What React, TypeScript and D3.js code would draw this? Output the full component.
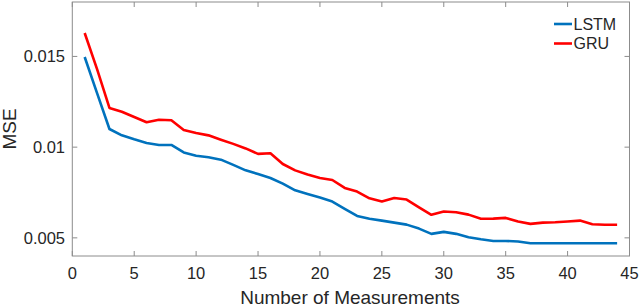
import React from "react";
import * as d3 from "d3";

const xValues = [1,2,3,4,5,6,7,8,9,10,11,12,13,14,15,16,17,18,19,20,21,22,23,24,25,26,27,28,29,30,31,32,33,34,35,36,37,38,39,40,41,42,43,44];
const lstm = [0.01497,0.01298,0.0110,0.01065,0.01043,0.01023,0.01012,0.01012,0.00971,0.00953,0.00944,0.00931,0.00902,0.00872,0.00852,0.0083,0.00799,0.00762,0.00742,0.00722,0.0070,0.0066,0.00621,0.00605,0.00595,0.00584,0.00573,0.00551,0.00522,0.00533,0.00522,0.00503,0.00492,0.00483,0.00483,0.0048,0.0047,0.0047,0.0047,0.0047,0.0047,0.0047,0.0047,0.0047];
const gru = [0.01629,0.0143,0.01216,0.01195,0.01166,0.01137,0.01151,0.01148,0.01095,0.01078,0.01065,0.01041,0.01018,0.00993,0.00963,0.00966,0.00907,0.00872,0.00849,0.0083,0.00819,0.00775,0.00755,0.00718,0.0070,0.0072,0.00711,0.00668,0.00627,0.00645,0.00641,0.00628,0.00605,0.00606,0.0061,0.0059,0.00577,0.00584,0.00586,0.0059,0.00595,0.00575,0.00572,0.00572];
const xTicks = [0,5,10,15,20,25,30,35,40,45];
const yTicks = [0.005, 0.01, 0.015];
const yTickLabels = ["0.005", "0.01", "0.015"];
const seriesNames = ["LSTM", "GRU"];
const seriesColors = ["#0072BD", "#FF0000"];

export default function App() {
  const W = 640, H = 307;
  const left = 72.3, right = 629.5, top = 2, bottom = 256;
  const x = d3.scaleLinear().domain([0, 45]).range([left, right]);
  const y = d3.scaleLinear().domain([0.004, 0.018]).range([bottom, top]);
  const line = d3.line<number>().x((_, i) => x(xValues[i])).y((d) => y(d));
  const series = [lstm, gru];
  const font = "'Liberation Sans', Arial, Helvetica, sans-serif";
  const axisColor = "#8c8c8c";
  const textColor = "#262626";
  const tl = 5;
  return (
    <div style={{ position: "fixed", left: 0, top: 0 }}>
      <svg width={W} height={H} style={{ display: "block", background: "#fff" }}>
        <rect x={left} y={top} width={right - left} height={bottom - top} fill="none" stroke={axisColor} strokeWidth={1} />
        {xTicks.map((t) => (
          <g key={"x" + t}>
            <line x1={x(t)} x2={x(t)} y1={bottom} y2={bottom - tl} stroke={axisColor} />
            <line x1={x(t)} x2={x(t)} y1={top} y2={top + tl} stroke={axisColor} />
            <text x={x(t)} y={273} textAnchor="middle" dominantBaseline="central" fontFamily={font} fontSize={16.5} fill={textColor}>{t}</text>
          </g>
        ))}
        {yTicks.map((t, i) => (
          <g key={"y" + t}>
            <line x1={left} x2={left + tl} y1={y(t)} y2={y(t)} stroke={axisColor} />
            <line x1={right} x2={right - tl} y1={y(t)} y2={y(t)} stroke={axisColor} />
            <text x={65} y={y(t)} textAnchor="end" dominantBaseline="central" fontFamily={font} fontSize={16.5} fill={textColor}>{yTickLabels[i]}</text>
          </g>
        ))}
        <text x={350} y={297} textAnchor="middle" dominantBaseline="central" fontFamily={font} fontSize={19} fill={textColor}>Number of Measurements</text>
        <text transform={`translate(9,129) rotate(-90)`} textAnchor="middle" dominantBaseline="central" fontFamily={font} fontSize={19} fill={textColor}>MSE</text>
        {series.map((s, i) => (
          <path key={i} d={line(s) || ""} fill="none" stroke={seriesColors[i]} strokeWidth={2.6} strokeLinejoin="round" />
        ))}
        {seriesNames.map((n, i) => (
          <g key={n}>
            <line x1={554} x2={572} y1={24 + i * 19.5} y2={24 + i * 19.5} stroke={seriesColors[i]} strokeWidth={2.6} />
            <text x={573.5} y={24 + i * 19.5} dominantBaseline="central" fontFamily={font} fontSize={16} fill={textColor}>{n}</text>
          </g>
        ))}
      </svg>
    </div>
  );
}
